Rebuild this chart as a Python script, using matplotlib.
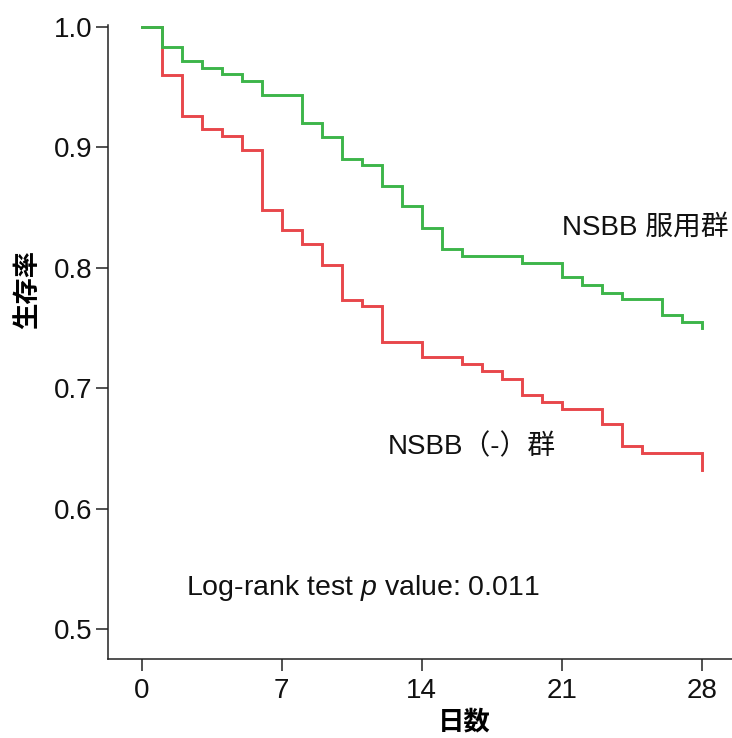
import matplotlib
matplotlib.use('Agg')
import matplotlib.pyplot as plt

plt.rcParams['font.family'] = ['Liberation Sans', 'Noto Sans CJK JP']
plt.rcParams['mathtext.fontset'] = 'custom'
plt.rcParams['mathtext.it'] = 'Liberation Sans:italic'
plt.rcParams['mathtext.rm'] = 'Liberation Sans'

#survival curves (day, survival)
green_days = [0, 1, 2, 3, 4, 5, 6, 8, 9, 10, 11, 12, 13, 14, 15, 16, 19, 21, 22, 23, 24, 26, 27, 28]
green_surv = [1.0, 0.983, 0.972, 0.966, 0.9605, 0.955, 0.943, 0.920, 0.9085, 0.8905, 0.885, 0.868,
              0.851, 0.833, 0.816, 0.810, 0.804, 0.792, 0.786, 0.779, 0.774, 0.761, 0.755, 0.750]

red_days = [0, 1, 2, 3, 4, 5, 6, 7, 8, 9, 10, 11, 12, 14, 16, 17, 18, 19, 20, 21, 23, 24, 25, 28]
red_surv = [1.0, 0.960, 0.926, 0.915, 0.9096, 0.898, 0.848, 0.831, 0.8195, 0.802, 0.773, 0.768,
            0.7386, 0.726, 0.720, 0.714, 0.7074, 0.694, 0.689, 0.683, 0.670, 0.652, 0.6465, 0.632]

x_ticks = [0, 7, 14, 21, 28]
y_ticks = [0.5, 0.6, 0.7, 0.8, 0.9, 1.0]

GREEN = '#3db54a'
RED = '#e8474b'

fig = plt.figure(figsize=(7.32, 7.38), dpi=100)
ax = fig.add_axes([0.1475, 0.1066, 0.8525, 0.8595])

ax.step(red_days, red_surv, where='post', color=RED, lw=2.1, solid_joinstyle='miter')
ax.step(green_days, green_surv, where='post', color=GREEN, lw=2.1, solid_joinstyle='miter')

ax.set_xlim(-1.685, 29.5)
ax.set_ylim(0.475, 1.0015)
ax.set_xticks(x_ticks)
ax.set_yticks(y_ticks)
ax.set_yticklabels(['%.1f' % v for v in y_ticks])

for s in ['top', 'right']:
    ax.spines[s].set_visible(False)
for s in ['left', 'bottom']:
    ax.spines[s].set_linewidth(1.1)
    ax.spines[s].set_color('#222222')
ax.tick_params(axis='both', direction='out', length=8.5, width=1.1, color='#222222',
               labelsize=20, labelcolor='#111111')
ax.tick_params(axis='x', pad=5)
ax.tick_params(axis='y', pad=2.5)

#group labels and test result
ax.text(21.0, 0.833, 'NSBB 服用群', fontsize=20, va='center', ha='left', color='#111111')
ax.text(12.3, 0.651, 'NSBB（-）群', fontsize=20, va='center', ha='left', color='#111111')
ax.text(2.2, 0.534, 'Log-rank test $p$ value: 0.011', fontsize=20.5, va='center', ha='left',
        color='#111111')

#axis labels
fig.text(28 / 732, 1 - 289 / 738, '生存率', rotation=90, fontsize=19, fontweight='bold',
         ha='center', va='center', family='Noto Sans CJK JP')
fig.text(464 / 732, 1 - 722 / 738, '日数', fontsize=19, fontweight='bold',
         ha='center', va='center', family='Noto Sans CJK JP')

fig.savefig('out.png', dpi=100)
